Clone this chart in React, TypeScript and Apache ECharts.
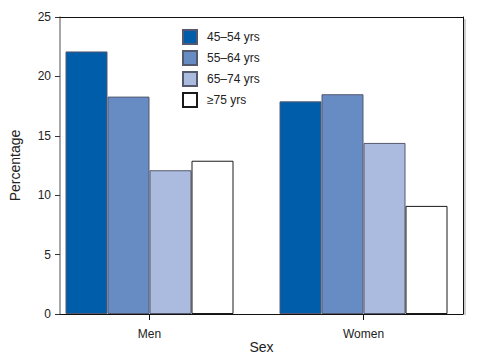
import React, { useEffect, useRef } from "react";
import * as echarts from "echarts";

const categories = ["Men", "Women"];
const seriesNames = ["45–54 yrs", "55–64 yrs", "65–74 yrs", "≥75 yrs"];
const age45_54 = [22.1, 17.9];
const age55_64 = [18.3, 18.5];
const age65_74 = [12.1, 14.4];
const age75plus = [12.9, 9.1];
const yTicks = [0, 5, 10, 15, 20, 25];

const colors = ["#005DAA", "#678CC4", "#ABBBDF", "#FFFFFF"];
const borders = ["#55596e", "#55596e", "#55596e", "#1a1a1a"];

export default function App() {
  const ref = useRef<HTMLDivElement>(null);
  useEffect(() => {
    if (!ref.current) return;
    const chart = echarts.init(ref.current, undefined, { renderer: "svg" });
    const font = "'Liberation Sans', Arial, Helvetica, sans-serif";
    const values = [age45_54, age55_64, age65_74, age75plus];
    chart.setOption({
      animation: false,
      textStyle: { fontFamily: font },
      grid: [
        { left: 52, right: 16, top: 17, bottom: 46 },
        { left: 42.5, right: 8.5, top: 17, bottom: 46 },
      ],
      legend: {
        orient: "vertical",
        left: 182,
        top: 29,
        padding: 0,
        itemWidth: 14,
        itemHeight: 14,
        itemGap: 5,
        icon: "rect",
        textStyle: { fontSize: 12, color: "#222", fontFamily: font, padding: [0, 0, 0, 5] },
        data: seriesNames,
      },
      xAxis: [
        {
          type: "value",
          gridIndex: 0,
          min: 0,
          max: 1,
          position: "bottom",
          axisLine: { show: true, onZero: false, lineStyle: { color: "#111", width: 1 } },
          axisTick: { show: false },
          axisLabel: { show: false },
          splitLine: { show: false },
          name: "Sex",
          nameLocation: "middle",
          nameGap: 26,
          nameTextStyle: { fontSize: 14, color: "#222", fontFamily: font },
        },
        {
          type: "value",
          gridIndex: 0,
          min: 0,
          max: 1,
          position: "top",
          axisLine: { show: true, onZero: false, lineStyle: { color: "#111", width: 1 } },
          axisTick: { show: false },
          axisLabel: { show: false },
          splitLine: { show: false },
        },
        {
          type: "category",
          gridIndex: 1,
          data: categories,
          axisLine: { show: false, onZero: false },
          axisTick: { show: true, alignWithLabel: true, length: 6, lineStyle: { color: "#111" } },
          axisLabel: { fontSize: 12, color: "#222", margin: 14, fontFamily: font },
        },
      ],
      yAxis: [
        {
          type: "value",
          gridIndex: 0,
          position: "left",
          min: yTicks[0],
          max: yTicks[yTicks.length - 1],
          interval: 5,
          axisLine: { show: true, onZero: false, lineStyle: { color: "#8a8a8a", width: 1.5 } },
          axisTick: { show: true, length: 5, lineStyle: { color: "#333" } },
          axisLabel: { fontSize: 12, color: "#222", margin: 9, fontFamily: font },
          splitLine: { show: false },
          name: "Percentage",
          nameLocation: "middle",
          nameGap: 38,
          nameTextStyle: { fontSize: 14, color: "#222", fontFamily: font },
        },
        {
          type: "value",
          gridIndex: 0,
          position: "right",
          min: 0,
          max: 25,
          interval: 5,
          axisLine: { show: true, onZero: false, lineStyle: { color: "#111", width: 1 } },
          axisTick: { show: false },
          axisLabel: { show: false },
          splitLine: { show: false },
        },
        {
          type: "value",
          gridIndex: 1,
          min: 0,
          max: 25,
          interval: 5,
          show: false,
        },
      ],
      graphic: [
        {
          type: "rect",
          shape: { x: 464, y: 19, width: 2, height: 296 },
          style: { fill: "#cfcfcf" },
          z: 0,
        },
      ],
      series: seriesNames.map((name, i) => ({
        name,
        type: "bar",
        xAxisIndex: 2,
        yAxisIndex: 2,
        data: values[i],
        barWidth: 42,
        barGap: "0%",
        itemStyle: { color: colors[i], borderColor: borders[i], borderWidth: 1 },
      })),
    });
    return () => chart.dispose();
  }, []);
  return (
    <div
      ref={ref}
      style={{ position: "absolute", left: 0, top: 0, width: 479, height: 360, background: "#fff" }}
    />
  );
}
